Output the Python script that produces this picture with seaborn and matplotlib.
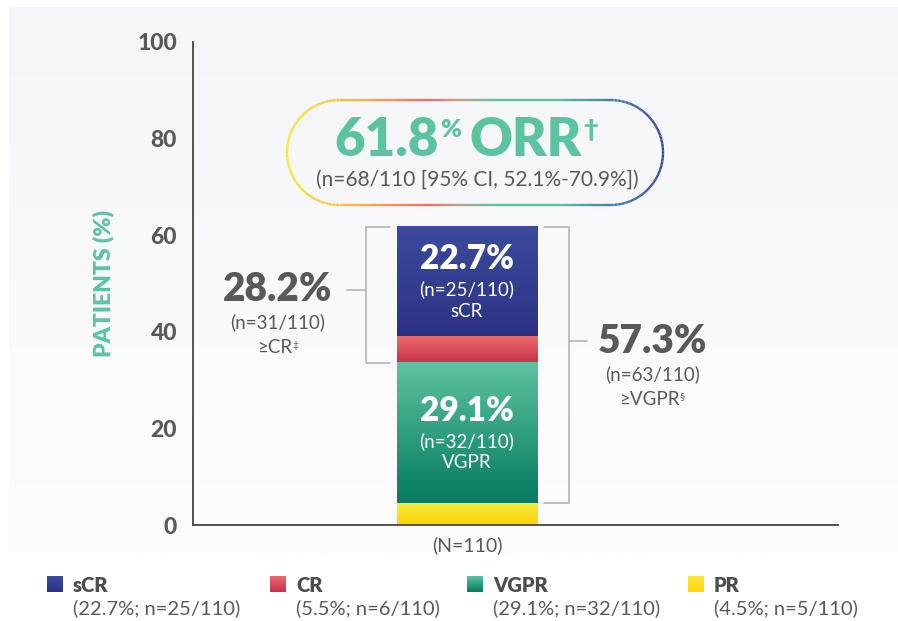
import numpy as np
import pandas as pd
import matplotlib
matplotlib.use('Agg')
import matplotlib.pyplot as plt
import seaborn as sns
from matplotlib.collections import LineCollection
from matplotlib.colors import LinearSegmentedColormap

# ---- data ----
responses = ['sCR', 'CR', 'VGPR', 'PR']
pct = [22.7, 5.5, 29.1, 4.5]
counts = [25, 6, 32, 5]
n_total = 110
group_label = '(N=110)'
orr_pct = 61.8
orr_n = 68
orr_ci = '52.1%-70.9%'
ge_cr = [28.2, 31]     # >=CR : pct, n
ge_vgpr = [57.3, 63]   # >=VGPR : pct, n
yticks = [0, 20, 40, 60, 80, 100]

colors_top = ['#3c4b9e', '#ec6b6c', '#5dc3a1', '#f6e942']
colors_bot = ['#2c3282', '#c92f4d', '#047a5e', '#fdd600']

GRAY = '#58595b'
GREEN = '#5cc3a0'
LINE = '#b5b5b5'
HEAVY = 'heavy'

sns.set_style('white')
plt.rcParams['font.family'] = ['Lato', 'DejaVu Sans']

# stacked: PR at the bottom, sCR on top
tops = np.cumsum(pct[::-1])[::-1]
bottoms = tops - np.array(pct)
df = pd.DataFrame({'group': group_label, 'response': responses, 'top': tops})

fig = plt.figure(figsize=(8.98, 6.21), dpi=100)
fig.patch.set_facecolor('white')

grad = np.linspace(0, 1, 256)[:, None]

# light background panel
bg = fig.add_axes([9 / 898, 68 / 621, 889 / 898, 546 / 621], zorder=0)
bg.imshow(grad, cmap=LinearSegmentedColormap.from_list('bg', ['#f4f5f9', '#fdfdfe']),
          aspect='auto', extent=[0, 1, 0, 1])
bg.axis('off')

# main axes
ax = fig.add_axes([193 / 898, 96 / 621, 645 / 898, 483 / 621], zorder=1)
ax.patch.set_alpha(0)
sns.barplot(data=df, x='group', y='top', hue='response', hue_order=responses,
            palette=colors_top, dodge=False, width=0.8, saturation=1,
            legend=False, ax=ax)

# gradient fill over each stacked segment
for p, b, ct, cb in zip(ax.patches, bottoms, colors_top, colors_bot):
    cmap = LinearSegmentedColormap.from_list('seg', [ct, cb])
    ax.imshow(grad, cmap=cmap, aspect='auto', zorder=2,
              extent=[p.get_x(), p.get_x() + p.get_width(), b, p.get_height()])

ax.set_xlim(-1.555, 2.105)
ax.set_ylim(0, 100)
sns.despine(ax=ax)
for s in ['left', 'bottom']:
    ax.spines[s].set_color('#454545')
    ax.spines[s].set_linewidth(1.3)

ax.tick_params(axis='y', direction='inout', length=11, width=1.1, color='#454545',
               pad=6, labelsize=16.5, labelcolor=GRAY)
ax.tick_params(axis='x', length=0, pad=8, labelsize=14, labelcolor=GRAY)
ax.set_yticks(yticks)
ax.set_yticklabels([str(t) for t in yticks], fontweight='black', fontsize=16.5, color=GRAY)
ax.set_xlabel('')
ax.set_ylabel('PATIENTS (%)', color=GREEN, fontsize=16.5, fontweight=HEAVY)
ax.yaxis.set_label_coords(-0.122, 0.5)

# labels inside the big segments
for i in [0, 2]:
    cy = (bottoms[i] + tops[i]) / 2
    ax.annotate(f'{pct[i]}%', xy=(0, cy), xytext=(0, 16), textcoords='offset points',
                ha='center', va='center', color='white', fontsize=24, fontweight=HEAVY, zorder=3)
    ax.annotate(f'(n={counts[i]}/{n_total})', xy=(0, cy), xytext=(0, -6), textcoords='offset points',
                ha='center', va='center', color='white', fontsize=13.5, zorder=3)
    ax.annotate(responses[i], xy=(0, cy), xytext=(0, -21.5), textcoords='offset points',
                ha='center', va='center', color='white', fontsize=13.5, zorder=3)

# brackets
half = 0.4


def bracket(y0, y1, ytick, side):
    xv = side * (half + 0.176)
    xa = side * (half + 0.035)
    xt = side * (half + 0.28)
    ax.plot([xa, xv, xv, xa], [y1, y1, y0, y0], color=LINE, lw=1.2, zorder=1)
    ax.plot([xv, xt], [ytick, ytick], color=LINE, lw=1.2, zorder=1)


def group_text(x, yc, value, n, label, mark):
    ax.text(x, yc, f'{value}%', ha='center', va='center', color=GRAY,
            fontsize=28, fontweight=HEAVY)
    ax.text(x, yc - 6.7, f'(n={n}/{n_total})', ha='center', va='center',
            color=GRAY, fontsize=13.5)
    t = ax.text(x - 0.02, yc - 12.0, label, ha='center', va='center',
                color=GRAY, fontsize=13.5)
    ax.annotate(mark, xy=(1, 0.92), xycoords=t, ha='left', va='top',
                color=GRAY, fontsize=7.5)


left_y = 48.7
right_y = 38.0
bracket(bottoms[1], tops[0], left_y, -1)
bracket(bottoms[2], tops[0], right_y, 1)
group_text(-1.072, left_y, ge_cr[0], ge_cr[1], '≥CR', '‡')
group_text(1.055, right_y, ge_vgpr[0], ge_vgpr[1], '≥VGPR', '§')

# overlay in pixel coordinates for the ORR pill and legend
ov = fig.add_axes([0, 0, 1, 1], zorder=3)
ov.patch.set_alpha(0)

px0, px1, pcy, r = 287, 663, 152.5, 52.5
cx0, cx1 = px0 + r, px1 - r
th = np.linspace(-np.pi / 2, np.pi / 2, 120)
xs = np.concatenate([np.linspace(cx0, cx1, 100), cx1 + r * np.cos(th),
                     np.linspace(cx1, cx0, 100), cx0 - r * np.cos(th)])
ys = np.concatenate([np.full(100, pcy - r), pcy + r * np.sin(th),
                     np.full(100, pcy + r), pcy - r * np.sin(th)])
pts = np.column_stack([xs, ys]).reshape(-1, 1, 2)
segs = np.concatenate([pts[:-1], pts[1:]], axis=1)
pill_cmap = LinearSegmentedColormap.from_list('pill', [
    (0, '#f6e53b'), (0.2, '#f9b04a'), (0.37, '#f26b6e'), (0.46, '#b8a58e'),
    (0.56, '#5cc3a0'), (0.72, '#5cc3a0'), (0.88, '#3f76a8'), (1, '#2e3d8f')])
lc = LineCollection(segs, cmap=pill_cmap, linewidths=1.7)
lc.set_array((segs[:, :, 0].mean(axis=1) - px0) / (px1 - px0))
lc.set_clim(0, 1)
ov.add_collection(lc)

t1 = ov.text(439, 156, f'{orr_pct}', ha='right', va='baseline', color=GREEN,
             fontsize=38, fontweight=HEAVY)
tp = ov.annotate('%', xy=(1, 0.93), xycoords=t1, xytext=(1, 0), textcoords='offset points',
                 ha='left', va='top', color=GREEN, fontsize=18, fontweight=HEAVY)
to = ov.annotate('ORR', xy=(1, 0), xycoords=(tp, t1), xytext=(6, 0), textcoords='offset points',
                 ha='left', va='bottom', color=GREEN, fontsize=38, fontweight=HEAVY)
ov.annotate('†', xy=(1, 0.93), xycoords=to, xytext=(1, 0), textcoords='offset points',
            ha='left', va='top', color=GREEN, fontsize=18, fontweight=HEAVY)
ov.text(477, 180, f'(n={orr_n}/{n_total} [95% CI, {orr_ci}])', ha='center', va='center',
        color=GRAY, fontsize=15)

# legend
leg_x = [47, 270, 467, 688]
for i, resp in enumerate(responses):
    x = leg_x[i]
    cmap = LinearSegmentedColormap.from_list('leg', [colors_top[i], colors_bot[i]])
    ov.imshow(grad, cmap=cmap, aspect='auto', extent=[x, x + 16, 592, 576])
    ov.text(x + 26, 585, resp, ha='left', va='center', color='#4d4d4f',
            fontsize=14.5, fontweight=HEAVY)
    ov.text(x + 26, 608, f'({pct[i]}%; n={counts[i]}/{n_total})', ha='left', va='center',
            color=GRAY, fontsize=14.5)

ov.set_xlim(0, 898)
ov.set_ylim(621, 0)
ov.axis('off')

fig.savefig('out.png', dpi=100)
